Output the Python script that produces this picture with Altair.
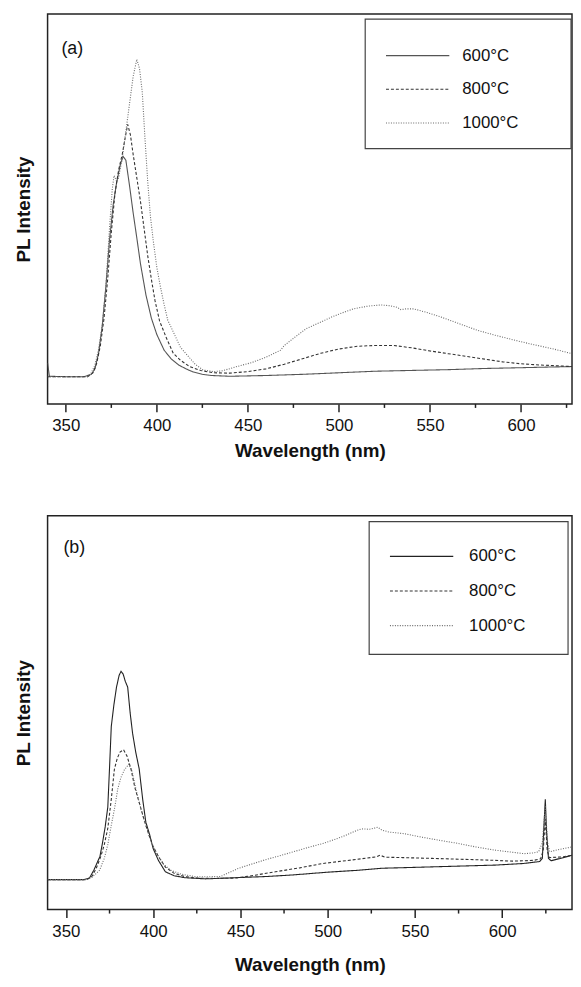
import altair as alt
import pandas as pd

series = ["600°C", "800°C", "1000°C"]
x_major = [350, 400, 450, 500, 550, 600]
x_minor = [375, 425, 475, 525, 575, 625]

# ---------------- panel (a) ----------------
a600_wl = [340, 341, 350, 360, 364, 366, 368, 370, 372, 374, 376, 378, 380, 381.5, 383, 385, 387, 389, 391, 394,
           397, 400, 404, 408, 412, 416, 420, 425, 430, 440, 460, 480, 500, 520, 540, 560, 580, 600, 628]
a600_I = [10.5, 7.1, 7.0, 7.0, 7.6, 9.0, 13, 20, 30, 42, 51, 57, 61.5, 63.5, 62.5, 56, 49, 42.6, 36, 28,
          22, 17.8, 13.8, 11.5, 10, 9, 8.2, 7.6, 7.3, 7.1, 7.3, 7.6, 8.0, 8.4, 8.6, 8.8, 9.1, 9.3, 9.6]

a800_wl = [340, 350, 362, 365, 367, 369, 371, 373, 375, 377, 379, 381, 382.5, 384, 385.5, 387, 389, 391, 393, 395,
           397, 399, 401.5, 405, 409, 413, 418, 424, 431, 440, 450, 460, 470, 480, 490, 500, 510, 520, 530, 540,
           550, 560, 570, 580, 590, 600, 610, 620, 628]
a800_I = [7.0, 7.0, 7.0, 8.0, 10.5, 15, 22, 32, 44, 54, 60, 64, 68, 71.7, 69, 64, 58, 52, 45, 38,
          32, 26.5, 21.3, 17.2, 13, 11.2, 9.6, 8.6, 8.0, 7.9, 8.3, 9.0, 10.2, 11.6, 13, 14.1, 14.8, 15, 15, 14.4,
          13.6, 12.9, 12.2, 11.5, 10.8, 10.3, 10, 9.8, 9.6]

a1000_wl = [340, 350, 362, 364, 366, 368, 370, 372, 374, 375.5, 376.5, 378, 379, 381, 383, 385, 387, 389, 390.5,
            392, 393.5, 395, 396.5, 398, 400, 402, 404, 406, 409.5, 413, 417.5, 421, 425.5, 431, 436, 444, 452,
            460, 468, 470, 476, 482, 490, 496, 502, 508, 516, 523, 528, 532, 534, 537, 541, 548, 556, 566, 576,
            586, 597, 607, 617, 628]
a1000_I = [7.0, 7.0, 7.0, 8, 10, 14, 20, 30, 45, 55, 58.6, 57, 58, 63, 70, 77, 84, 88.4, 86,
           80, 68, 57, 48, 42, 35, 30, 25.5, 21.5, 18, 14.5, 12.1, 10.2, 8.7, 8.3, 8.5, 9.6, 10.6,
           12, 13.8, 15, 17.2, 19.3, 21, 22.3, 23.4, 24.4, 25.1, 25.4, 25.2, 24.8, 24.2, 24.4, 24.4, 23.5, 22.3, 20.6, 18.9,
           17.6, 16.3, 15.2, 14.2, 12.9]

# ---------------- panel (b) ----------------
b600_wl = [339.5, 350, 360, 363.5, 366, 368, 369.5, 371, 372.5, 374, 375, 376, 377.5, 379, 380.5, 381.6, 382.8,
           384, 385.4, 386.8, 388.2, 390, 392, 394, 395.8, 398, 400, 403, 407, 412, 418, 430, 447, 465, 480, 500,
           518, 531, 548, 564, 580, 596, 612, 621.5, 623, 624, 624.7, 625.4, 626.5, 628, 635, 640]
b600_I = [7.6, 7.6, 7.6, 8.0, 10, 12, 13.5, 17, 21, 26, 36, 46.5, 52, 56.5, 59.5, 60.5, 59.8,
          58, 56.5, 50, 44.8, 40, 35.7, 28, 22.2, 19, 15.5, 12.5, 9.6, 8.6, 8.1, 7.8, 8.1, 8.4, 8.8, 9.5,
          10.0, 10.5, 10.7, 10.9, 11.1, 11.3, 11.7, 12.2, 13, 22, 28, 20, 13, 12.4, 13.2, 13.8]

b800_wl = [339.5, 362, 365, 367.4, 370, 372, 374, 376, 377.8, 379.5, 381, 383, 385, 387.3, 389.5, 392, 395, 397.7,
           400, 403, 407, 412, 418, 425, 435, 447, 458, 470, 484, 497, 514, 528, 530, 533, 543, 560, 575, 590,
           606, 618, 622, 623.5, 624.7, 625.8, 627, 635, 640]
b800_I = [7.6, 7.6, 8.5, 10.5, 13.5, 16.5, 20.6, 28, 35.7, 38.5, 40, 40.6, 39, 35.7, 31, 27.2, 22.5, 18.8,
          16, 13.5, 10.8, 9.2, 8.4, 8.0, 7.9, 8.0, 8.7, 9.6, 10.6, 11.7, 12.6, 13.4, 13.8, 13.3, 13.2, 13.0, 12.8, 12.6,
          12.3, 12.5, 12.9, 15, 23, 15, 13.2, 13.4, 13.8]

b1000_wl = [339.5, 362, 365, 369.3, 372, 374, 376, 378, 379.7, 381.5, 383.5, 386, 388, 390.1, 393, 395.8, 399,
            402.4, 406, 410, 416, 425, 438.6, 444, 449, 456, 463.8, 472, 480.5, 489, 497.3, 504, 510, 515, 519.3,
            524, 528.7, 531, 535, 543.4, 553.9, 564, 574.8, 585, 595.8, 605, 612.6, 618, 620.9, 623, 624.7, 626,
            627.2, 633, 640]
b1000_I = [7.6, 7.6, 8.2, 10, 13, 16.5, 21.4, 26, 30.6, 33.5, 35.5, 36.9, 35, 30.6, 25.5, 21.4, 17,
           14, 11.5, 10, 9, 8.3, 8.4, 9.5, 10.5, 11.5, 12.6, 13.6, 14.7, 15.8, 16.8, 17.8, 18.8, 19.8, 20.5,
           20.4, 20.9, 20.2, 19.7, 19.3, 18.4, 17.6, 16.8, 15.9, 15.1, 14.6, 14.2, 14.4, 14.7, 17, 26.4, 17,
           14.7, 15.3, 15.9]


def long_df(parts):
    rows = []
    for name, wl, inten in parts:
        for i, (w, v) in enumerate(zip(wl, inten)):
            rows.append({"T": name, "wl": w, "I": v, "o": i})
    return pd.DataFrame(rows)


df_a = long_df([(series[0], a600_wl, a600_I), (series[1], a800_wl, a800_I), (series[2], a1000_wl, a1000_I)])
df_b = long_df([(series[0], b600_wl, b600_I), (series[1], b800_wl, b800_I), (series[2], b1000_wl, b1000_I)])

FONT = "Liberation Sans"
dashes = [[1, 0], [3, 2], [1, 1.5]]


def panel(df, label, xdom, width, height, colors, box, rule_x, text_x, rows_y, label_xy, title_pad):
    xscale = alt.Scale(domain=xdom, nice=False, zero=False)
    cscale = alt.Scale(domain=series, range=colors)
    dscale = alt.Scale(domain=series, range=dashes)
    lines = alt.Chart(df).mark_line(strokeWidth=1.1, clip=True).encode(
        x=alt.X("wl:Q", scale=xscale,
                axis=alt.Axis(values=x_major, title="Wavelength (nm)", grid=False, domain=False,
                              tickSize=8, tickWidth=1.5, tickColor="#222", labelPadding=6,
                              labelFontSize=17, labelFont=FONT, labelColor="#111",
                              titleFont=FONT, titleFontSize=19, titleFontWeight="bold",
                              titleColor="#111", titlePadding=title_pad)),
        y=alt.Y("I:Q", scale=alt.Scale(domain=[0, 100], nice=False, zero=False),
                axis=alt.Axis(labels=False, ticks=False, domain=False, grid=False, title="PL Intensity",
                              titleFont=FONT, titleFontSize=19, titleFontWeight="bold",
                              titleColor="#111", titlePadding=14)),
        color=alt.Color("T:N", scale=cscale, legend=None),
        strokeDash=alt.StrokeDash("T:N", scale=dscale, legend=None),
        order="o:Q",
    )
    minor = alt.Chart(pd.DataFrame({"wl": x_minor})).mark_rule(strokeWidth=1.5, color="#222").encode(
        x=alt.X("wl:Q", scale=xscale),
        y=alt.value(height),
        y2=alt.value(height + 4),
    )
    rect = alt.Chart(alt.Data(values=[{}])).mark_rect(fill="white", stroke="#444", strokeWidth=1.2).encode(
        x=alt.value(box[0]), x2=alt.value(box[1]), y=alt.value(box[2]), y2=alt.value(box[3])
    )
    yleg = alt.Scale(type="point", domain=series, range=rows_y, padding=0)
    leg_df = pd.DataFrame({"T": series})
    leg_rules = alt.Chart(leg_df).mark_rule(strokeWidth=1.1).encode(
        x=alt.value(rule_x[0]), x2=alt.value(rule_x[1]),
        y=alt.Y("T:N", scale=yleg, axis=None),
        color=alt.Color("T:N", scale=cscale, legend=None),
        strokeDash=alt.StrokeDash("T:N", scale=dscale, legend=None),
    )
    leg_text = alt.Chart(leg_df).mark_text(align="left", baseline="middle", fontSize=17, font=FONT,
                                           color="#111").encode(
        x=alt.value(text_x),
        y=alt.Y("T:N", scale=yleg, axis=None),
        text="T:N",
    )
    lab = alt.Chart(alt.Data(values=[{}])).mark_text(align="left", baseline="middle", fontSize=18, font=FONT,
                                                      color="#111").encode(
        x=alt.value(label_xy[0]), y=alt.value(label_xy[1]), text=alt.value(label)
    )
    return alt.layer(lines, minor, rect, leg_rules, leg_text, lab).resolve_scale(
        y="independent"
    ).properties(width=width, height=height)


top = panel(df_a, "(a)", [340, 628], 530, 394, ["#555555", "#333333", "#6a6a6a"],
            (321, 529, 5, 136), (342, 406), 419, [42, 110], (14, 35), 8)
bottom = panel(df_b, "(b)", [339.5, 640], 530, 398, ["#222222", "#333333", "#6a6a6a"],
               (325, 526, 6, 140), (346, 410), 426, [41, 111], (16, 33), 17)

chart = alt.vconcat(top, bottom, spacing=54).resolve_scale(
    color="independent", strokeDash="independent", x="independent", y="independent"
).properties(
    padding={"left": 6, "top": 0, "right": 0, "bottom": 0},
    background="white",
).configure_view(stroke="#222", strokeWidth=1.5)

chart.save("out.html", embed_options={"renderer": "svg", "actions": False})
